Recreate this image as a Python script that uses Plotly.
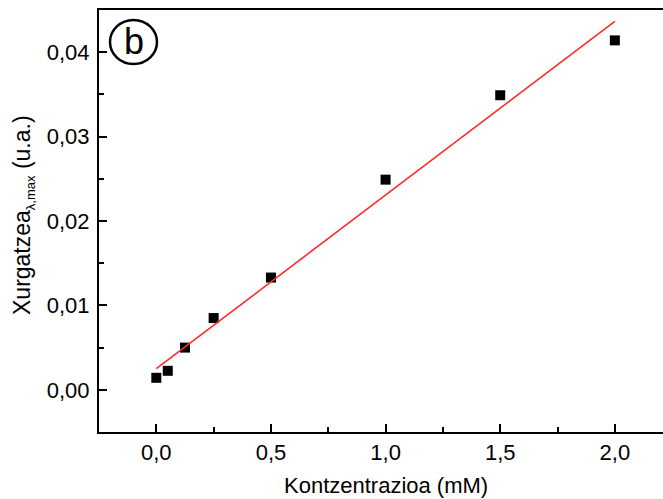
import numpy as np
import plotly.graph_objects as go

# Data
concentration = [0.0, 0.05, 0.125, 0.25, 0.5, 1.0, 1.5, 2.0]
absorbance = [0.00142, 0.00225, 0.0050, 0.0085, 0.0133, 0.0249, 0.0349, 0.0414]

x_ticks = [0.0, 0.5, 1.0, 1.5, 2.0]
y_ticks = [0.00, 0.01, 0.02, 0.03, 0.04]

x_title = "Kontzentrazioa (mM)"
y_title = "Xurgatzea<sub><span style='font-size:13px'>λ,max</span></sub> (u.a.)"

# Linear fit of the data
slope, intercept = np.polyfit(concentration, absorbance, 1)
fit_x = [min(concentration), max(concentration)]
fit_y = [slope * v + intercept for v in fit_x]

FONT = "Liberation Sans, Arial, sans-serif"

fig = go.Figure()
fig.add_trace(go.Scatter(
    x=concentration, y=absorbance, mode="markers",
    marker=dict(symbol="square", size=10, color="black",
                line=dict(width=0)),
    showlegend=False, cliponaxis=False,
))
fig.add_trace(go.Scatter(
    x=fit_x, y=fit_y, mode="lines",
    line=dict(color="#ff2a2a", width=1.6),
    showlegend=False,
))

axis_common = dict(
    showgrid=False, zeroline=False, automargin=False,
    showline=True, linecolor="black", linewidth=2,
    ticks="inside", ticklen=8, tickwidth=1.5, tickcolor="black",
    tickfont=dict(family=FONT, size=22, color="black"),
)

fig.update_layout(
    width=663, height=499,
    margin=dict(l=99, r=0, t=10, b=67),
    plot_bgcolor="white", paper_bgcolor="white",
    separators=",.",
    xaxis=dict(
        range=[-0.25, 2.21],
        tickvals=x_ticks, tickformat=".1f",
        mirror=True,
        minor=dict(dtick=0.25, tick0=0, ticks="inside", ticklen=5,
                   tickwidth=1.5, tickcolor="black"),
        **axis_common,
    ),
    yaxis=dict(
        range=[-0.005, 0.045],
        tickvals=y_ticks, tickformat=".2f",
        ticklabelstandoff=3,
        minor=dict(dtick=0.005, tick0=0, ticks="inside", ticklen=5,
                   tickwidth=1.5, tickcolor="black"),
        **axis_common,
    ),
    shapes=[dict(type="circle", xref="paper", yref="paper",
                 x0=0.0195, x1=0.1028, y0=0.872, y1=0.9763,
                 line=dict(color="black", width=2.5))],
    annotations=[
        dict(text="b", xref="paper", yref="paper",
             x=0.0612, y=0.926, showarrow=False,
             xanchor="center", yanchor="middle",
             font=dict(family=FONT, size=36, color="black")),
        dict(text=x_title, xref="paper", yref="paper",
             x=(386 - 99) / 564, y=-(486 - 432) / 422, showarrow=False,
             xanchor="center", yanchor="middle",
             font=dict(family=FONT, size=22, color="black")),
        dict(text=y_title, xref="paper", yref="paper",
             x=-(99 - 24) / 564, y=(432 - 215) / 422, showarrow=False,
             textangle=-90, xanchor="center", yanchor="middle",
             font=dict(family=FONT, size=23, color="black")),
    ],
)

fig.write_html(
    "out.html",
    config={"displayModeBar": False},
    post_script="document.body.style.margin='0';document.body.style.overflow='hidden';",
)
